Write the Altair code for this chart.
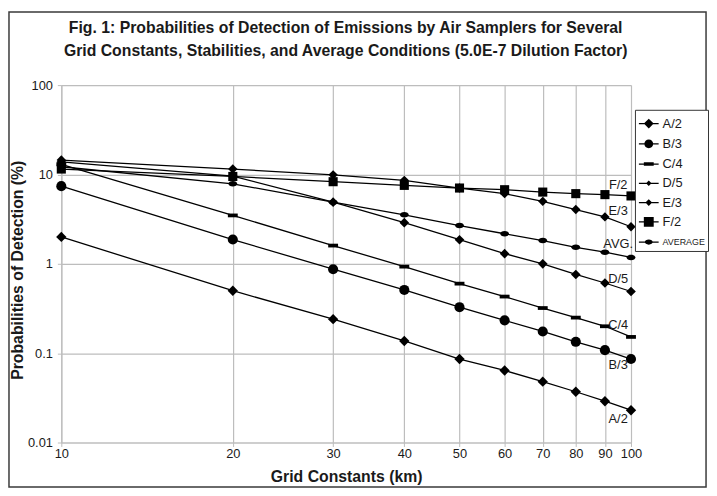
import altair as alt
import pandas as pd

grid_km = [10, 20, 30, 40, 50, 60, 70, 80, 90, 100]
series_names = ["A/2", "B/3", "C/4", "D/5", "E/3", "F/2", "AVERAGE"]
end_labels = ["A/2", "B/3", "C/4", "D/5", "E/3", "F/2", "AVG."]

a2 = [2.0, 0.50, 0.24, 0.137, 0.086, 0.064, 0.048, 0.037, 0.029, 0.023]
b3 = [7.4, 1.87, 0.87, 0.51, 0.327, 0.233, 0.175, 0.134, 0.108, 0.086]
c4 = [13.0, 3.48, 1.60, 0.93, 0.60, 0.43, 0.32, 0.25, 0.20, 0.152]
d5 = [13.8, 9.6, 4.9, 2.89, 1.86, 1.30, 1.00, 0.76, 0.61, 0.49]
e3 = [14.5, 11.5, 9.9, 8.6, 7.05, 6.1, 5.0, 4.05, 3.35, 2.6]
f2 = [11.5, 9.5, 8.3, 7.55, 7.05, 6.75, 6.35, 6.1, 5.95, 5.75]
avg = [12.2, 7.85, 4.9, 3.54, 2.68, 2.17, 1.82, 1.53, 1.35, 1.18]

y_ticks = [0.01, 0.1, 1, 10, 100]
title_lines = [
    "Fig. 1: Probabilities of Detection of Emissions by Air Samplers for Several",
    "Grid Constants, Stabilities, and Average Conditions (5.0E-7 Dilution Factor)",
]

values = {"A/2": a2, "B/3": b3, "C/4": c4, "D/5": d5, "E/3": e3, "F/2": f2, "AVERAGE": avg}
rows = []
for name in series_names:
    for km, v in zip(grid_km, values[name]):
        rows.append({"series": name, "km": km, "p": v})
df = pd.DataFrame(rows)

FONT = "Liberation Sans"
GRID = "#bdbdbd"
TXT = "#1a1a1a"

# marker shapes (unit paths) and sizes
marker_paths = [
    "diamond",
    "circle",
    "M-1,-0.38L1,-0.38L1,0.38L-1,0.38Z",
    "diamond",
    "diamond",
    "square",
    "M-1,0A1,0.62 0 1,1 1,0A1,0.62 0 1,1 -1,0Z",
]
marker_sizes = [110, 80, 100, 30, 42, 100, 56]

# legend glyphs: a thin filled bar (the line) plus the marker, same winding
LINE = "M-1,-0.065L1,-0.065L1,0.065L-1,0.065Z"
legend_paths = [
    LINE + "M-0.5,0L0,-0.5L0.5,0L0,0.5Z",
    LINE + "M-0.45,0A0.45,0.45 0 1,1 0.45,0A0.45,0.45 0 1,1 -0.45,0Z",
    LINE + "M-0.5,-0.18L0.5,-0.18L0.5,0.18L-0.5,0.18Z",
    LINE + "M-0.28,0L0,-0.28L0.28,0L0,0.28Z",
    LINE + "M-0.34,0L0,-0.34L0.34,0L0,0.34Z",
    LINE + "M-0.5,-0.5L0.5,-0.5L0.5,0.5L-0.5,0.5Z",
    LINE + "M-0.4,0A0.4,0.26 0 1,1 0.4,0A0.4,0.26 0 1,1 -0.4,0Z",
]

x_enc = alt.X(
    "km:Q",
    scale=alt.Scale(type="log", domain=[10, 100], nice=False),
    axis=alt.Axis(
        values=grid_km, format="d", title="Grid Constants (km)",
        titlePadding=8, labelPadding=1, labelOverlap=False, labelFlush=False,
    ),
)
y_enc = alt.Y(
    "p:Q",
    scale=alt.Scale(type="log", domain=[0.01, 100], nice=False),
    axis=alt.Axis(
        values=y_ticks, format="~g", title="Probabilities of Detection (%)",
        labelPadding=5, labelOverlap=False, labelFlush=False,
        titleX=-36, titleY=187,
    ),
)

base = alt.Chart(df)

lines = base.mark_line(color="black", strokeWidth=1.3).encode(
    x=x_enc, y=y_enc, detail="series:N"
)

points = base.mark_point(filled=True, color="black", opacity=1).encode(
    x=x_enc,
    y=y_enc,
    shape=alt.Shape("series:N", scale=alt.Scale(domain=series_names, range=marker_paths), legend=None),
    size=alt.Size("series:N", scale=alt.Scale(domain=series_names, range=marker_sizes), legend=None),
)

legend_df = pd.DataFrame({"legend_series": series_names, "km": [10] * 7, "p": [1] * 7})
legend_layer = alt.Chart(legend_df).mark_point(
    filled=True, color="black", opacity=0
).encode(
    x="km:Q",
    y="p:Q",
    shape=alt.Shape(
        "legend_series:N",
        scale=alt.Scale(domain=series_names, range=legend_paths),
        legend=alt.Legend(
            title=None, orient="none", legendX=581, legendY=25,
            symbolSize=400, symbolFillColor="black", symbolOpacity=1,
            labelFont=FONT, labelColor=TXT, labelOffset=3,
            labelFontSize={"expr": "datum.value === 'AVERAGE' ? 9 : 13"},
            padding=3, rowPadding=1.5, strokeColor="#333333", fillColor="white",
        ),
    ),
)

label_dy = [8.8, 6.6, -12, -12.8, -15.6, -11.4, -13.9]
label_layers = []
for name, lab, dy in zip(series_names, end_labels, label_dy):
    sub = df[(df.series == name) & (df.km == 100)]
    label_layers.append(
        alt.Chart(sub).mark_text(align="center", dx=-13, dy=dy, font=FONT, fontSize=13, color=TXT).encode(
            x="km:Q", y="p:Q", text=alt.value(lab)
        )
    )

frame_df = pd.DataFrame({"f": [0]})
frame = alt.Chart(frame_df).mark_rect(fillOpacity=0, stroke="#3a3a3a", strokeWidth=1.5).encode(
    x=alt.value(-53), x2=alt.value(653), y=alt.value(-74), y2=alt.value(407)
)

title_layers = [
    alt.Chart(frame_df).mark_text(font=FONT, fontSize=16, fontWeight="bold", color=TXT).encode(
        x=alt.value(288), y=alt.value(yy), text=alt.value(t)
    )
    for t, yy in zip(title_lines, [-57.5, -34])
]

chart = (
    alt.layer(frame, lines, points, legend_layer, *label_layers, *title_layers)
    .properties(width=577, height=362, padding=0, background="white")
    .resolve_scale(shape="independent")
    .configure_view(stroke=None)
    .configure_axis(
        grid=True, gridColor=GRID, gridWidth=1.2,
        domainColor=GRID, domainWidth=1.2,
        tickColor=GRID, tickSize=4,
        labelFont=FONT, labelFontSize=13, labelColor=TXT,
        titleFont=FONT, titleFontSize=16, titleFontWeight="bold", titleColor=TXT,
    )
)

chart.save("out.html", embed_options={"renderer": "svg", "actions": False})
